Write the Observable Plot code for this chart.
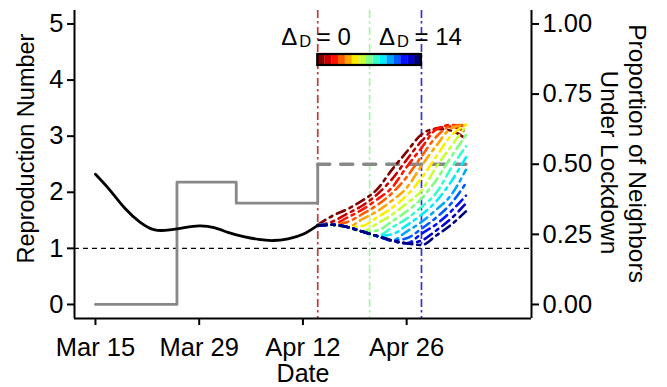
<!DOCTYPE html>
<html><head><meta charset="utf-8">
<script src="https://cdn.jsdelivr.net/npm/d3@7"></script>
<script src="https://cdn.jsdelivr.net/npm/@observablehq/plot@0.6"></script>
<style>
html,body{margin:0;padding:0;background:#fff;}
#chart{width:667px;height:387px;}
</style></head>
<body><div id="chart"></div>
<script>
// ---------------- DATA ----------------
// Estimated reproduction number, days after Mar 15
const rDays   = [0, 2, 4, 6, 8, 10, 12, 14, 16, 18, 20, 22, 24, 26, 28, 30];
const rValues = [2.32, 2.03, 1.71, 1.47, 1.33, 1.33, 1.37, 1.40, 1.37, 1.28, 1.21, 1.16, 1.14, 1.17, 1.25, 1.41];

// Proportion of neighbors under lockdown (step), observed
const propDates  = ["2020-03-15", "2020-03-26", "2020-04-03", "2020-04-14"];
const propValues = [0, 0.436, 0.361, 0.5];
// projected proportion (dashed)
const propProjDates  = ["2020-04-14", "2020-05-04"];
const propProjValues = [0.5, 0.5];

// Projections: days after Apr 14, one series per delay Delta_D = 0..14
const projStart = "2020-04-14";
const projDays = [0, 2, 4, 6, 8, 10, 12, 14, 16, 18, 20];
const deltaD = [0, 1, 2, 3, 4, 5, 6, 7, 8, 9, 10, 11, 12, 13, 14];
const proj0  = [1.42, 1.58, 1.70, 1.85, 2.05, 2.40, 2.72, 3.03, 3.13, 3.10, 2.95];
const proj1  = [1.41, 1.48, 1.62, 1.76, 1.96, 2.23, 2.58, 2.91, 3.14, 3.17, 3.07];
const proj2  = [1.41, 1.43, 1.55, 1.69, 1.87, 2.08, 2.45, 2.79, 3.12, 3.20, 3.17];
const proj3  = [1.41, 1.42, 1.47, 1.61, 1.77, 1.98, 2.27, 2.64, 2.99, 3.18, 3.20];
const proj4  = [1.41, 1.42, 1.38, 1.52, 1.66, 1.85, 2.08, 2.47, 2.83, 3.14, 3.20];
const proj5  = [1.41, 1.42, 1.38, 1.40, 1.55, 1.72, 1.94, 2.25, 2.64, 3.01, 3.20];
const proj6  = [1.41, 1.42, 1.38, 1.30, 1.44, 1.60, 1.80, 2.03, 2.45, 2.82, 3.18];
const proj7  = [1.41, 1.42, 1.38, 1.30, 1.32, 1.48, 1.66, 1.89, 2.22, 2.63, 3.02];
const proj8  = [1.41, 1.42, 1.38, 1.30, 1.22, 1.37, 1.53, 1.74, 1.99, 2.43, 2.82];
const proj9  = [1.41, 1.42, 1.38, 1.30, 1.22, 1.25, 1.41, 1.60, 1.84, 2.19, 2.62];
const proj10 = [1.41, 1.42, 1.38, 1.30, 1.22, 1.14, 1.30, 1.47, 1.69, 1.95, 2.40];
const proj11 = [1.41, 1.42, 1.38, 1.30, 1.22, 1.14, 1.18, 1.35, 1.55, 1.80, 2.16];
const proj12 = [1.41, 1.42, 1.38, 1.30, 1.22, 1.14, 1.09, 1.26, 1.43, 1.66, 1.94];
const proj13 = [1.41, 1.42, 1.38, 1.30, 1.22, 1.14, 1.09, 1.14, 1.32, 1.53, 1.80];
const proj14 = [1.41, 1.42, 1.38, 1.30, 1.22, 1.14, 1.09, 1.06, 1.23, 1.42, 1.66];
const projSeries = [proj0, proj1, proj2, proj3, proj4, proj5, proj6, proj7, proj8, proj9, proj10, proj11, proj12, proj13, proj14];

// jet palette, Delta_D = 0 (red) .. 14 (blue)
const jetColors = ["#7F0000", "#C80000", "#FF1200", "#FF5B00", "#FFA400", "#FFED00", "#C8FF36", "#7FFF7F",
                   "#36FFC8", "#00EDFF", "#00A4FF", "#005BFF", "#0012FF", "#0000C8", "#00007F"];

// reference lines
const refDates  = ["2020-04-14", "2020-04-21", "2020-04-28"];
const refColors = ["#c03c3c", "#a8f4a8", "#3434d2"];
const thresholdR = [1];

// ticks
const xTickDates  = ["2020-03-15", "2020-03-29", "2020-04-12", "2020-04-26"];
const xTickLabels = ["Mar 15", "Mar 29", "Apr 12", "Apr 26"];
const yTicks = [0, 1, 2, 3, 4, 5];
const propTicks = [0, 0.25, 0.5, 0.75, 1];
const propTickLabels = ["0.00", "0.25", "0.50", "0.75", "1.00"];

// legend labels
const legendDates = ["2020-04-14", "2020-04-28"];
const legendTexts = ["= 0", "= 14"];

// ---------------- LAYOUT ----------------
const DAY = 864e5;
const U = s => new Date(s + "T00:00:00Z");
const mar15 = U("2020-03-15");
const xDomain = [new Date(+mar15 - 2.83 * DAY), new Date(+mar15 + 58.85 * DAY)];
const yDomain = [-0.25, 5.24];
const propToR = p => p * 5;  // secondary axis: proportion 1 <-> R 5
const font = '"Liberation Sans", Arial, Helvetica, sans-serif';
const tickFont = 25.5;

const rData = rDays.map((d, i) => ({date: new Date(+mar15 + d * DAY), R: rValues[i]}));
const propData = propDates.map((d, i) => ({date: U(d), R: propToR(propValues[i])}));
const propProj = propProjDates.map((d, i) => ({date: U(d), R: propToR(propProjValues[i])}));
const p0 = U(projStart);
const projData = [];
deltaD.forEach((dd, k) => projSeries[k].forEach((v, j) =>
  projData.push({date: new Date(+p0 + projDays[j] * DAY), R: v, delta: dd})));

const legStart = U(legendDates[0]), legEnd = U(legendDates[1]);
const cellW = (legEnd - legStart) / deltaD.length;
const cells = deltaD.map((dd, i) => ({x1: new Date(+legStart + i * cellW), x2: new Date(+legStart + (i + 1) * cellW), c: jetColors[i]}));
const barTop = 4.456, barBot = 4.26, labelY = 4.617;
const labelShift = [0, -6];

const legendTextMarks = [];
legendDates.forEach((d, i) => {
  const x = U(d), s = labelShift[i];
  legendTextMarks.push(
    Plot.text([x], {x: v => v, y: labelY, text: () => "Δ", textAnchor: "start", lineAnchor: "bottom", dx: -36.5 + s, fontSize: 24, fontFamily: font}),
    Plot.text([x], {x: v => v, y: labelY, text: () => "D", textAnchor: "start", lineAnchor: "bottom", dx: -18.5 + s, dy: 1.8, fontSize: 16.5, fontFamily: font}),
    Plot.text([x], {x: v => v, y: labelY, text: () => legendTexts[i], textAnchor: "start", lineAnchor: "bottom", dx: -1 + s, fontSize: 24, fontFamily: font})
  );
});

const chart = Plot.plot({
  width: 667, height: 387,
  marginLeft: 74, marginRight: 136, marginTop: 10, marginBottom: 69,
  x: {type: "utc", domain: xDomain},
  y: {domain: yDomain},
  style: {fontFamily: font, fontSize: "24px", color: "black", background: "white", overflow: "visible"},
  marks: [
    Plot.ruleY(thresholdR, {stroke: "black", strokeWidth: 1.2, strokeDasharray: "5,4"}),
    Plot.ruleX(refDates, {x: d => U(d), stroke: (d, i) => refColors[i], strokeWidth: 1.7, strokeDasharray: "8,3,2.5,3.5"}),
    Plot.line(propData, {x: "date", y: "R", curve: "step-after", stroke: "#888888", strokeWidth: 2.8}),
    Plot.line(propProj, {x: "date", y: "R", stroke: "#888888", strokeWidth: 3.5, strokeDasharray: "12,11"}),
    Plot.line(projData, {x: "date", y: "R", z: "delta", stroke: d => jetColors[d.delta], curve: "monotone-x", strokeWidth: 2.6, strokeDasharray: "9,5,3,5"}),
    Plot.line(rData, {x: "date", y: "R", curve: "natural", stroke: "black", strokeWidth: 2.8}),
    // colour bar legend
    Plot.rect(cells, {x1: "x1", x2: "x2", y1: barBot, y2: barTop, fill: "c"}),
    Plot.rect([0], {x1: () => legStart, x2: () => legEnd, y1: barBot, y2: barTop, fill: "none", stroke: "black", strokeWidth: 2.2}),
    ...legendTextMarks,
    // axes
    Plot.ruleX([xDomain[0], xDomain[1]], {stroke: "black", strokeWidth: 2}),
    Plot.ruleY([yDomain[0]], {stroke: "black", strokeWidth: 2}),
    Plot.axisX({ticks: xTickDates.map(U), tickFormat: d => xTickLabels[xTickDates.findIndex(t => +U(t) === +d)], tickSize: 7, tickPadding: 12, fontSize: tickFont, strokeWidth: 2, label: null}),
    Plot.axisY({anchor: "left", ticks: yTicks, tickFormat: d => String(d), tickSize: 7, tickPadding: 4, fontSize: tickFont, strokeWidth: 2, label: null}),
    Plot.axisY({anchor: "right", ticks: propTicks.map(propToR), tickFormat: v => propTickLabels[propTicks.findIndex(p => Math.abs(propToR(p) - v) < 1e-9)], tickSize: 7, tickPadding: 4, fontSize: tickFont, strokeWidth: 2, label: null}),
    // axis titles
    Plot.text(["Date"], {frameAnchor: "bottom", text: d => d, textAnchor: "middle", lineAnchor: "bottom", dy: 63.5, fontSize: 25, fontFamily: font}),
    Plot.text(["Reproduction Number"], {frameAnchor: "left", text: d => d, textAnchor: "middle", lineAnchor: "middle", rotate: -90, dx: -48.5, dy: -16, fontSize: 23.5, fontFamily: font}),
    Plot.text(["Proportion of Neighbors"], {frameAnchor: "right", text: d => d, textAnchor: "middle", lineAnchor: "middle", rotate: 90, dx: 105, dy: -11, fontSize: 24.5, fontFamily: font}),
    Plot.text(["Under Lockdown"], {frameAnchor: "right", text: d => d, textAnchor: "middle", lineAnchor: "middle", rotate: 90, dx: 77.5, dy: -2, fontSize: 24.5, fontFamily: font})
  ]
});
document.getElementById("chart").appendChild(chart);
</script>
</body></html>
